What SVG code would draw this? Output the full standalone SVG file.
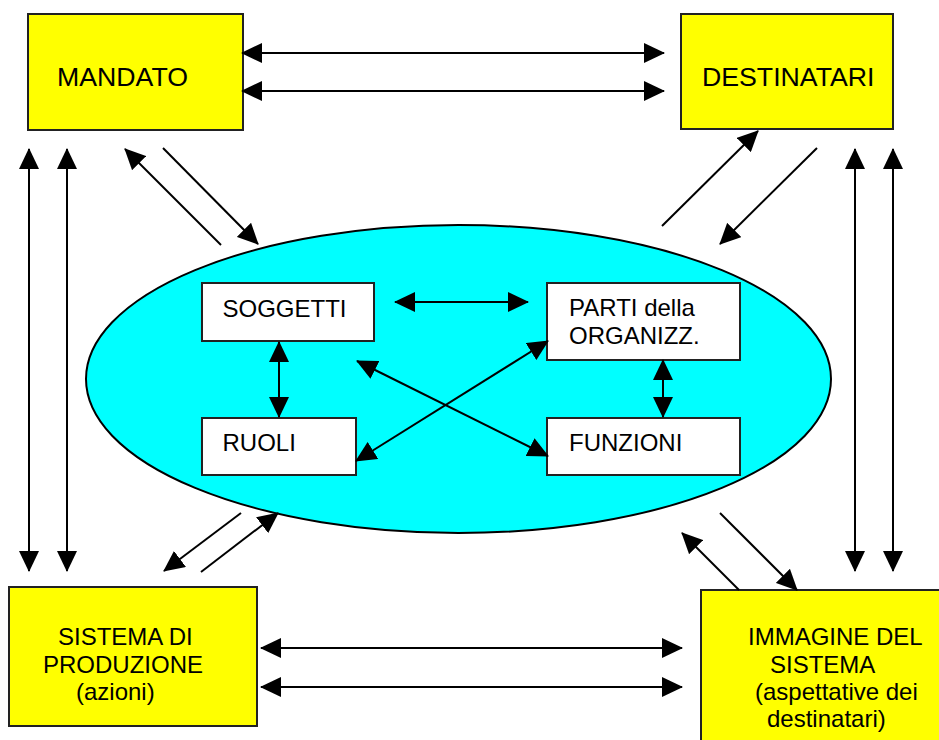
<svg xmlns="http://www.w3.org/2000/svg" width="939" height="740" viewBox="0 0 939 740">
<style>
.ybox{fill:#FFFF00;stroke:#222;stroke-width:2}
.wbox{fill:#FFFFFF;stroke:#222;stroke-width:2}
.t{font-family:"Liberation Sans",Arial,sans-serif;fill:#000}
.big{font-size:26.7px}
.mid{font-size:24px}
.c line{stroke:#000;stroke-width:2;marker-end:url(#ah)}
.c line.d{marker-start:url(#ah)}
</style>
<defs>
<marker id="ah" markerUnits="userSpaceOnUse" markerWidth="21" markerHeight="20" refX="20" refY="10" orient="auto-start-reverse" viewBox="0 0 21 20">
<path d="M0,0 L21,10 L0,20 z" fill="#000"/>
</marker>
</defs>
<rect width="939" height="740" fill="#FFFFFF"/>
<g id="ellipse">
<ellipse cx="458.5" cy="379" rx="372.5" ry="154" fill="#00FFFF" stroke="#000" stroke-width="2"/>
</g>
<g id="mandato">
<rect class="ybox" x="28" y="14" width="215" height="116"/>
<text class="t big" x="57" y="86">MANDATO</text>
</g>
<g id="destinatari">
<rect class="ybox" x="681" y="14" width="212" height="115"/>
<text class="t big" x="702" y="86">DESTINATARI</text>
</g>
<g id="sistema">
<rect class="ybox" x="9" y="587" width="248" height="139"/>
<text class="t mid" x="58" y="645">SISTEMA DI</text>
<text class="t mid" x="43" y="673">PRODUZIONE</text>
<text class="t mid" x="76" y="700">(azioni)</text>
</g>
<g id="immagine">
<rect class="ybox" x="701" y="590" width="260" height="170"/>
<text class="t mid" x="748" y="645">IMMAGINE DEL</text>
<text class="t mid" x="770" y="673">SISTEMA</text>
<text class="t mid" x="755" y="700">(aspettative dei</text>
<text class="t mid" x="767" y="727">destinatari)</text>
</g>
<g id="soggetti">
<rect class="wbox" x="202" y="283" width="172" height="58"/>
<text class="t mid" x="222.5" y="317">SOGGETTI</text>
</g>
<g id="parti">
<rect class="wbox" x="547" y="283" width="193" height="77"/>
<text class="t mid" x="569" y="316">PARTI della</text>
<text class="t mid" x="569" y="344">ORGANIZZ.</text>
</g>
<g id="ruoli">
<rect class="wbox" x="202" y="418" width="154" height="57"/>
<text class="t mid" x="222.5" y="451">RUOLI</text>
</g>
<g id="funzioni">
<rect class="wbox" x="547" y="418" width="193" height="57"/>
<text class="t mid" x="569" y="451">FUNZIONI</text>
</g>
<g id="connectors" class="c">
<line class="d" x1="242" y1="53" x2="664" y2="53"/>
<line class="d" x1="242" y1="91" x2="664" y2="91"/>
<line class="d" x1="261" y1="648" x2="682" y2="648"/>
<line class="d" x1="261" y1="687" x2="682" y2="687"/>
<line class="d" x1="29" y1="149" x2="29" y2="571"/>
<line class="d" x1="67" y1="149" x2="67" y2="571"/>
<line class="d" x1="855" y1="149" x2="855" y2="571"/>
<line class="d" x1="893" y1="149" x2="893" y2="571"/>
<line x1="221" y1="245" x2="125" y2="149"/>
<line x1="163" y1="148" x2="258" y2="244"/>
<line x1="662" y1="226" x2="758" y2="131"/>
<line x1="817" y1="148" x2="720" y2="244"/>
<line x1="241" y1="513" x2="164" y2="571"/>
<line x1="201" y1="572" x2="278" y2="513"/>
<line x1="739" y1="590" x2="682" y2="533"/>
<line x1="720" y1="513" x2="797" y2="590"/>
<line class="d" x1="395" y1="302" x2="528" y2="302"/>
<line class="d" x1="279" y1="342" x2="279" y2="417"/>
<line class="d" x1="663" y1="360" x2="663" y2="417"/>
<line class="d" x1="357" y1="361" x2="548" y2="456"/>
<line class="d" x1="356" y1="461" x2="548" y2="341"/>
</g>
</svg>
